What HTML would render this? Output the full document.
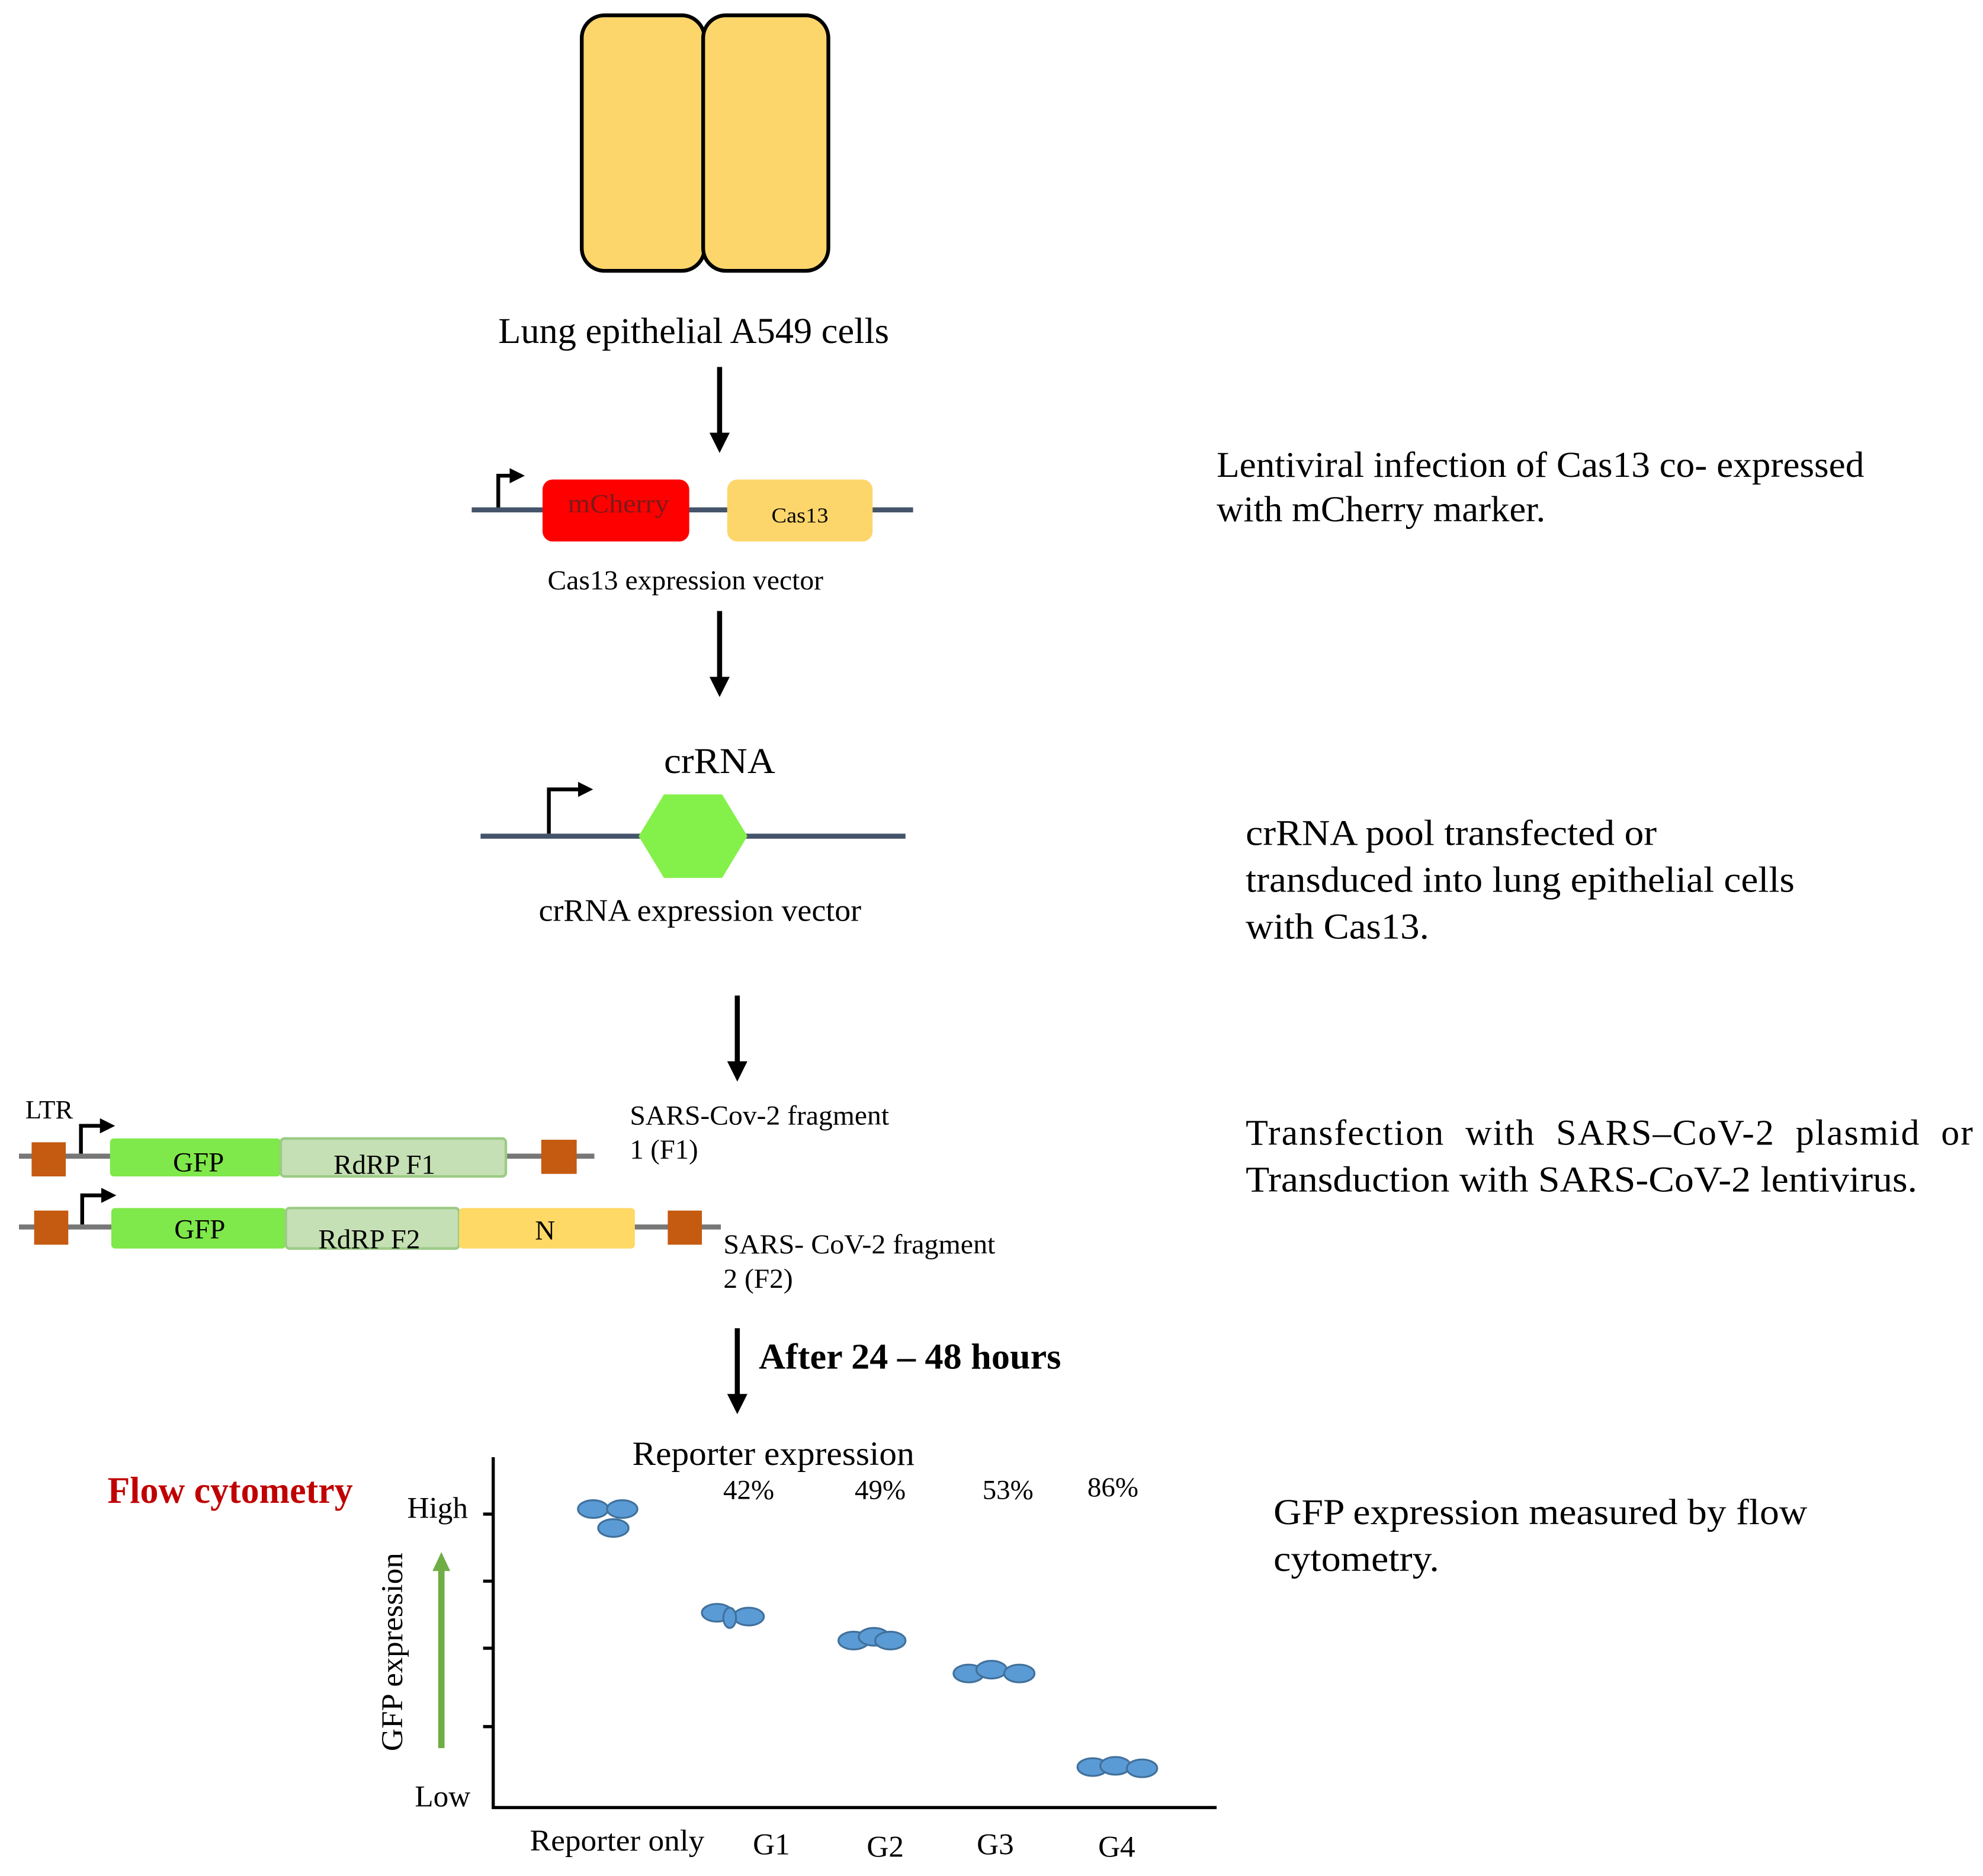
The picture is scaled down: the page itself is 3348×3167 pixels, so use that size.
<!DOCTYPE html>
<html><head><meta charset="utf-8"><style>html,body{margin:0;padding:0;background:#fff}svg{display:block}</style></head>
<body>
<svg width="3348" height="3167" viewBox="0 0 1568 1483" xmlns="http://www.w3.org/2000/svg" font-family="Liberation Serif, serif">
<defs>
<marker id="ah" markerWidth="4" markerHeight="4" refX="2" refY="2" orient="auto" markerUnits="strokeWidth"><path d="M0,0 L4,2 L0,4 z" fill="#000"/></marker>
<marker id="ps" markerWidth="4" markerHeight="4" refX="1" refY="2" orient="auto" markerUnits="strokeWidth"><path d="M0,0 L4,2 L0,4 z" fill="#000"/></marker>
</defs>
<rect width="1568" height="1483" fill="#fff"/>
<rect x="460" y="12" width="97" height="202" rx="18" fill="#FDD66B" stroke="#000" stroke-width="3"/>
<rect x="556" y="12" width="99" height="202" rx="18" fill="#FDD66B" stroke="#000" stroke-width="3"/>
<text x="394" y="271" font-size="29" textLength="309" lengthAdjust="spacingAndGlyphs">Lung epithelial A549 cells</text>
<g stroke="#000" stroke-width="4">
<line x1="569" y1="290" x2="569" y2="350" marker-end="url(#ah)"/>
<line x1="569" y1="483" x2="569" y2="543" marker-end="url(#ah)"/>
<line x1="583" y1="787" x2="583" y2="847" marker-end="url(#ah)"/>
<line x1="583" y1="1050" x2="583" y2="1110" marker-end="url(#ah)"/>
</g>
<line x1="373" y1="403" x2="722" y2="403" stroke="#44546A" stroke-width="4"/>
<polyline points="394,401 394,376 406,376" fill="none" stroke="#000" stroke-width="3" marker-end="url(#ps)"/>
<rect x="429" y="379" width="116" height="49" rx="8" fill="#FF0000"/>
<text x="449" y="405" font-size="21" textLength="80" lengthAdjust="spacingAndGlyphs" fill="#7a1a1a">mCherry</text>
<rect x="575" y="379" width="115" height="49" rx="8" fill="#FDD66B"/>
<text x="610" y="413" font-size="17" textLength="45" lengthAdjust="spacingAndGlyphs">Cas13</text>
<text x="433" y="466" font-size="22" textLength="218" lengthAdjust="spacingAndGlyphs">Cas13 expression vector</text>
<text x="525" y="611" font-size="29" textLength="88" lengthAdjust="spacingAndGlyphs">crRNA</text>
<line x1="380" y1="661" x2="716" y2="661" stroke="#44546A" stroke-width="4"/>
<polyline points="434,659 434,624 460,624" fill="none" stroke="#000" stroke-width="3" marker-end="url(#ps)"/>
<polygon points="505,661 525,628 571,628 591,661 571,694 525,694" fill="#84F04A"/>
<text x="426" y="728" font-size="25" textLength="255" lengthAdjust="spacingAndGlyphs">crRNA expression vector</text>
<text x="20" y="884" font-size="21">LTR</text>
<line x1="15" y1="914" x2="470" y2="914" stroke="#777" stroke-width="4"/>
<rect x="25" y="903" width="27" height="27" fill="#C55A11"/>
<rect x="428" y="901" width="28" height="27" fill="#C55A11"/>
<polyline points="64,912 64,890 82,890" fill="none" stroke="#000" stroke-width="3" marker-end="url(#ps)"/>
<rect x="87" y="900" width="135" height="30" rx="3" fill="#7FE84A"/>
<text x="157" y="926" font-size="22" text-anchor="middle">GFP</text>
<rect x="222" y="900" width="178" height="30" rx="3" fill="#C5E0B4" stroke="#9CCB86" stroke-width="2"/>
<text x="304" y="928" font-size="22" text-anchor="middle">RdRP F1</text>
<text x="498" y="889" font-size="22" textLength="205" lengthAdjust="spacingAndGlyphs">SARS-Cov-2 fragment</text>
<text x="498" y="916" font-size="22" textLength="54" lengthAdjust="spacingAndGlyphs">1 (F1)</text>
<line x1="15" y1="970" x2="570" y2="970" stroke="#777" stroke-width="4"/>
<rect x="27" y="957" width="27" height="27" fill="#C55A11"/>
<rect x="528" y="957" width="27" height="27" fill="#C55A11"/>
<polyline points="65,968 65,945 83,945" fill="none" stroke="#000" stroke-width="3" marker-end="url(#ps)"/>
<rect x="88" y="955" width="138" height="32" rx="3" fill="#7FE84A"/>
<text x="158" y="979" font-size="22" text-anchor="middle">GFP</text>
<rect x="226" y="955" width="137" height="32" rx="3" fill="#C5E0B4" stroke="#9CCB86" stroke-width="2"/>
<text x="292" y="987" font-size="22" text-anchor="middle">RdRP F2</text>
<rect x="363" y="955" width="139" height="32" rx="3" fill="#FFD966"/>
<text x="431" y="980" font-size="22" text-anchor="middle">N</text>
<text x="572" y="991" font-size="22" textLength="215" lengthAdjust="spacingAndGlyphs">SARS- CoV-2 fragment</text>
<text x="572" y="1018" font-size="22" textLength="55" lengthAdjust="spacingAndGlyphs">2 (F2)</text>
<text x="600" y="1082" font-size="29" font-weight="bold" textLength="239" lengthAdjust="spacingAndGlyphs">After 24 – 48 hours</text>
<text x="500" y="1158" font-size="27" textLength="223" lengthAdjust="spacingAndGlyphs">Reporter expression</text>
<text x="85" y="1188" font-size="30" font-weight="bold" fill="#C00000" textLength="194" lengthAdjust="spacingAndGlyphs">Flow cytometry</text>
<g stroke="#000" stroke-width="2.5">
<line x1="390" y1="1152" x2="390" y2="1430"/>
<line x1="389" y1="1429" x2="962" y2="1429"/>
<line x1="382" y1="1197" x2="390" y2="1197"/>
<line x1="382" y1="1250" x2="390" y2="1250"/>
<line x1="382" y1="1303" x2="390" y2="1303"/>
<line x1="382" y1="1365" x2="390" y2="1365"/>
</g>
<text x="322" y="1200" font-size="24">High</text>
<text x="328" y="1428" font-size="24">Low</text>
<text transform="translate(318,1306) rotate(-90)" font-size="24" text-anchor="middle" textLength="157" lengthAdjust="spacingAndGlyphs">GFP expression</text>
<line x1="349" y1="1382" x2="349" y2="1240" stroke="#70AD47" stroke-width="5"/>
<path d="M342,1242 L349,1227 L356,1242 z" fill="#70AD47"/>
<g font-size="22" text-anchor="middle">
<text x="592" y="1185">42%</text><text x="696" y="1185">49%</text><text x="797" y="1185">53%</text><text x="880" y="1183">86%</text>
</g>
<g fill="#5B9BD5" stroke="#41719C" stroke-width="1.5">
<ellipse cx="469" cy="1193" rx="12" ry="7"/><ellipse cx="492" cy="1193" rx="12" ry="7"/><ellipse cx="485" cy="1208" rx="12" ry="7"/>
<ellipse cx="567" cy="1275" rx="12" ry="7"/><ellipse cx="592" cy="1278" rx="12" ry="7"/><ellipse cx="577" cy="1279" rx="5" ry="8"/>
<ellipse cx="675" cy="1297" rx="12" ry="7"/><ellipse cx="691" cy="1294" rx="12" ry="7"/><ellipse cx="704" cy="1297" rx="12" ry="7"/>
<ellipse cx="766" cy="1323" rx="12" ry="7"/><ellipse cx="784" cy="1320" rx="12" ry="7"/><ellipse cx="806" cy="1323" rx="12" ry="7"/>
<ellipse cx="864" cy="1397" rx="12" ry="7"/><ellipse cx="882" cy="1396" rx="12" ry="7"/><ellipse cx="903" cy="1398" rx="12" ry="7"/>
</g>
<text x="419" y="1463" font-size="24" textLength="138" lengthAdjust="spacingAndGlyphs">Reporter only</text>
<g font-size="24" text-anchor="middle">
<text x="610" y="1466">G1</text><text x="700" y="1468">G2</text><text x="787" y="1466">G3</text><text x="883" y="1468">G4</text>
</g>
<g font-size="29" lengthAdjust="spacingAndGlyphs">
<text x="962" y="377" textLength="512" lengthAdjust="spacingAndGlyphs">Lentiviral infection  of Cas13 co- expressed</text>
<text x="962" y="412" textLength="260" lengthAdjust="spacingAndGlyphs">with mCherry marker.</text>
<text x="985" y="668" textLength="325" lengthAdjust="spacingAndGlyphs">crRNA pool transfected or</text>
<text x="985" y="705" textLength="434" lengthAdjust="spacingAndGlyphs">transduced into lung epithelial cells</text>
<text x="985" y="742" textLength="145" lengthAdjust="spacingAndGlyphs">with Cas13.</text>
<text x="985" y="905" textLength="575" lengthAdjust="spacing" word-spacing="8">Transfection with SARS–CoV-2 plasmid or</text>
<text x="985" y="942" textLength="531" lengthAdjust="spacingAndGlyphs">Transduction with SARS-CoV-2 lentivirus.</text>
<text x="1007" y="1205" textLength="422" lengthAdjust="spacingAndGlyphs">GFP expression measured by flow</text>
<text x="1007" y="1242" textLength="131" lengthAdjust="spacingAndGlyphs">cytometry.</text>
</g>
</svg>
</body></html>
